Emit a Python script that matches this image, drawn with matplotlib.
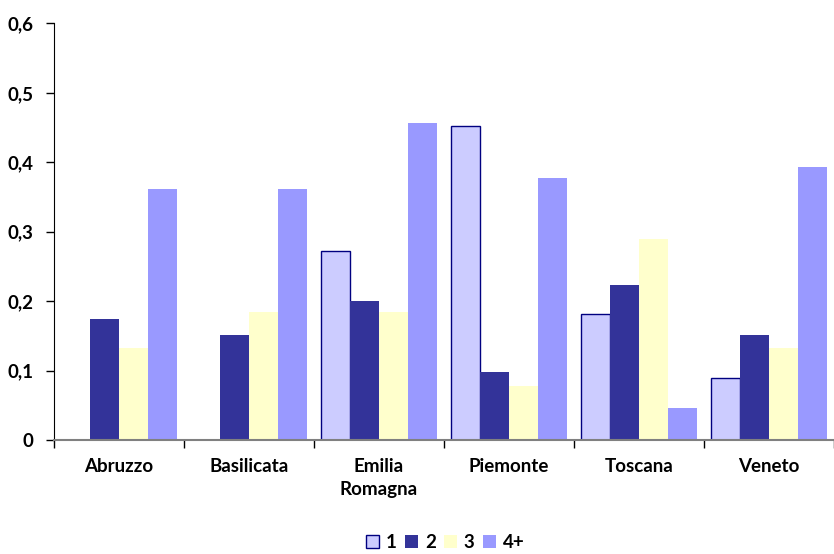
import matplotlib
matplotlib.use("Agg")
import matplotlib.pyplot as plt
import numpy as np

plt.rcParams["font.family"] = ["Lato", "DejaVu Sans"]

regions = ["Abruzzo", "Basilicata", "Emilia\nRomagna", "Piemonte", "Toscana", "Veneto"]
series_names = ["1", "2", "3", "4+"]
s1 = [0.0, 0.0, 0.272, 0.453, 0.181, 0.090]
s2 = [0.174, 0.151, 0.200, 0.098, 0.223, 0.151]
s3 = [0.132, 0.184, 0.184, 0.078, 0.289, 0.132]
s4 = [0.361, 0.361, 0.456, 0.377, 0.046, 0.393]
y_ticks = [0, 0.1, 0.2, 0.3, 0.4, 0.5, 0.6]
y_labels = ["0", "0,1", "0,2", "0,3", "0,4", "0,5", "0,6"]

colors = ["#CCCCFF", "#333399", "#FFFFCC", "#9999FF"]
edges = ["#000080", "none", "none", "none"]

fig = plt.figure(figsize=(8.34, 5.54), dpi=100, facecolor="white")
ax = fig.add_axes([0.0647, 0.2058, 0.9353, 0.7518])

x = np.arange(len(regions))
w = 1 / 4.5
for i, vals in enumerate([s1, s2, s3, s4]):
    ax.bar(x + (i - 1.5) * w, vals, width=w, color=colors[i],
           edgecolor=edges[i], linewidth=1.0 if i == 0 else 0,
           label=series_names[i], zorder=2)

ax.set_xlim(-0.5, len(regions) - 0.5)
ax.set_ylim(0, 0.6)
ax.set_yticks(y_ticks)
ax.set_yticklabels(y_labels, fontsize=13.5, fontweight="bold")
ax.tick_params(axis="y", direction="out", length=6, width=1, pad=9, colors="black")

# category boundaries carry the ticks, labels sit between them
ax.set_xticks(np.arange(len(regions) + 1) - 0.5)
ax.set_xticklabels([])
ax.set_xticks(x, minor=True)
ax.set_xticklabels(regions, minor=True, fontsize=13.5, fontweight="bold",
                   linespacing=1.45)
ax.tick_params(axis="x", which="major", direction="out", length=6, width=1)
ax.tick_params(axis="x", which="minor", length=0, pad=13)

for side in ["top", "right"]:
    ax.spines[side].set_visible(False)
ax.spines["left"].set_color("black")
ax.spines["bottom"].set_color("#808080")
ax.spines["bottom"].set_linewidth(1.5)

leg = fig.legend(loc="lower center", bbox_to_anchor=(0.534, -0.025), ncol=4,
                 frameon=False, handlelength=0.7, handleheight=0.7,
                 handletextpad=0.35, columnspacing=0.45,
                 prop={"weight": "bold", "size": 13.5})

fig.savefig("out.png", dpi=100, facecolor="white")
